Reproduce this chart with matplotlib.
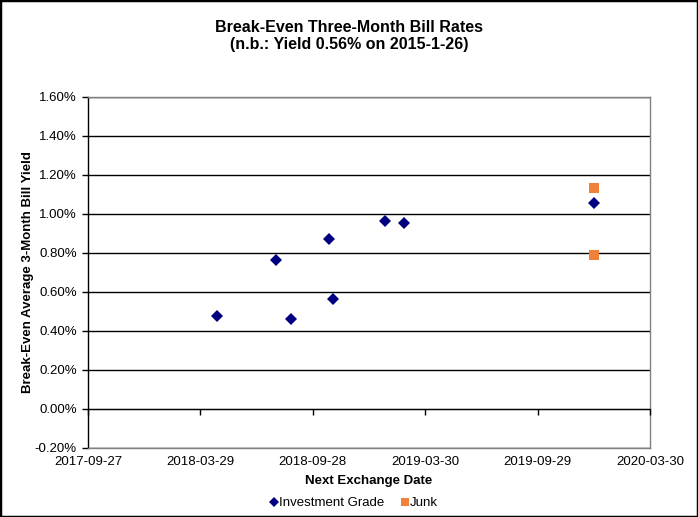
import matplotlib
matplotlib.use("Agg")
import matplotlib.pyplot as plt
import matplotlib.dates as mdates
from matplotlib.patches import Rectangle
from matplotlib.ticker import FuncFormatter
from datetime import datetime

plt.rcParams['font.family'] = ['Liberation Sans', 'DejaVu Sans']

# Data (yield in %)
ig_dates = ["2018-04-25", "2018-07-30", "2018-08-24", "2018-10-25", "2018-10-31",
            "2019-01-24", "2019-02-23", "2019-12-30"]
ig_values = [0.477, 0.765, 0.46, 0.871, 0.565, 0.964, 0.955, 1.054]
junk_dates = ["2019-12-30", "2019-12-30"]
junk_values = [1.131, 0.788]

x_ticks = ["2017-09-27", "2018-03-29", "2018-09-28", "2019-03-30", "2019-09-29", "2020-03-30"]
y_ticks = [-0.2, 0.0, 0.2, 0.4, 0.6, 0.8, 1.0, 1.2, 1.4, 1.6]

def d(s):
    return datetime.strptime(s, "%Y-%m-%d")

fig = plt.figure(figsize=(6.98, 5.17), dpi=100)
W, H = 698, 517
left, right, top, bottom = 88, 650, 96.7, 448
ax = fig.add_axes([left / W, 1 - bottom / H, (right - left) / W, (bottom - top) / H])

xt = [d(s) for s in x_ticks]
ax.set_xlim(xt[0], xt[-1])
ax.set_ylim(y_ticks[0], y_ticks[-1])

ax.set_yticks(y_ticks)
ax.yaxis.set_major_formatter(FuncFormatter(lambda v, p: f"{v:.2f}%".replace("\u2212", "-")))
ax.grid(axis='y', color='black', linewidth=1.0)
ax.set_axisbelow(True)

ax.set_xticks(xt)
ax.set_xticklabels(x_ticks)
ax.tick_params(axis='x', length=0, pad=6, labelsize=9.5)
ax.tick_params(axis='y', length=4, width=1, direction='out', pad=4, labelsize=9.5)

for s in ['top', 'right', 'bottom']:
    ax.spines[s].set_color('#808080')
    ax.spines[s].set_linewidth(1.0)
ax.spines['left'].set_color('black')
ax.spines['left'].set_linewidth(1.0)

# x-axis line at 0 with downward tick marks
ax2 = ax.twiny()
ax2.set_xlim(ax.get_xlim())
ax2.xaxis.set_ticks_position('bottom')
ax2.spines['bottom'].set_position(('data', 0))
ax2.spines['bottom'].set_color('black')
for s in ['top', 'right', 'left']:
    ax2.spines[s].set_visible(False)
ax2.set_xticks(ax.get_xticks())
ax2.tick_params(axis='x', length=4, width=1, direction='out', labelbottom=False, labeltop=False, top=False)
ax2.patch.set_visible(False)

ax2.plot([d(s) for s in ig_dates], ig_values, linestyle='none', marker='D',
         markersize=6.5, color='#000080', markeredgewidth=0, label='Investment Grade', zorder=5)
ax2.plot([d(s) for s in junk_dates], junk_values, linestyle='none', marker='s',
         markersize=7.3, color='#F0813A', markeredgewidth=0, label='Junk', zorder=5)

ax.set_xlabel("Next Exchange Date", fontsize=9.5, fontweight='bold', labelpad=5)
fig.text(28 / W, 1 - 272 / H, "Break-Even Average 3-Month Bill Yield", rotation=90,
         ha='center', va='center', fontsize=9.5, fontweight='bold')

fig.text(0.5, 1 - 36 / H, "Break-Even Three-Month Bill Rates\n(n.b.: Yield 0.56% on 2015-1-26)",
         ha='center', va='center', fontsize=11.5, fontweight='bold', linespacing=1.25)

h, l = ax2.get_legend_handles_labels()
fig.legend(h, l, loc='center', bbox_to_anchor=(354 / W, 1 - 503 / H), ncol=2, frameon=False,
           fontsize=9.5, markerscale=0.75, handlelength=0.6, handletextpad=0.1, columnspacing=1.2)

fig.add_artist(Rectangle((0, 0), 1, 1, transform=fig.transFigure, fill=False,
                         edgecolor='black', linewidth=2.5))

fig.savefig("out.png", dpi=100)
